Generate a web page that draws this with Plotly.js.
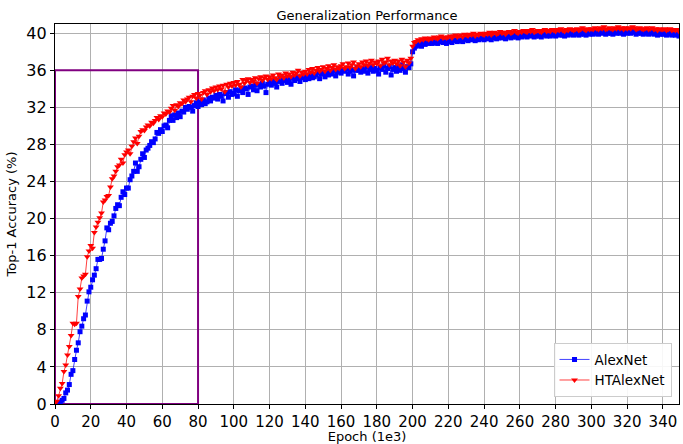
<!DOCTYPE html>
<html>
<head>
<meta charset="utf-8">
<script src="https://cdn.plot.ly/plotly-3.0.1.min.js"></script>
<style>html,body{margin:0;padding:0;background:#fff;}#chart{width:683px;height:444px;}</style>
</head>
<body>
<div id="chart"></div>
<script>
const alexNet = [
0.0,0.0,0.1,0.2,0.4,0.6,1.2,1.5,2.1,3.2,
3.6,4.8,5.8,6.6,7.8,8.4,9.2,9.6,11.1,12.1,
12.6,13.4,13.9,14.6,15.6,15.6,15.7,16.7,17.6,19.0,
18.8,19.5,19.7,20.3,21.1,21.5,21.4,22.3,22.9,22.6,
23.3,23.3,24.2,24.6,25.1,26.0,25.1,25.6,26.4,27.0,
26.6,27.4,27.6,27.9,28.3,28.2,28.6,29.3,29.2,29.6,
29.4,30.0,30.1,29.8,30.6,31.1,30.6,31.2,30.9,31.4,
31.0,31.6,31.5,32.0,31.8,32.1,32.0,31.6,32.2,32.5,
32.1,32.6,32.3,32.8,32.4,32.6,33.0,32.7,33.1,33.0,
33.3,32.9,33.4,33.2,32.7,33.5,33.6,33.1,33.7,33.4,
33.5,33.9,33.2,33.8,34.0,33.6,34.1,34.0,33.4,34.2,
34.3,33.9,34.4,33.8,34.5,34.2,34.6,34.3,33.6,34.5,
34.7,34.4,34.9,34.6,34.2,34.8,35.0,34.6,34.9,35.1,
34.7,35.0,34.5,35.2,34.9,35.1,35.3,34.8,35.2,35.4,
35.0,35.4,35.1,35.6,35.2,35.3,35.5,35.8,35.1,35.6,
35.7,35.3,35.8,35.5,35.9,35.6,36.0,35.4,35.8,36.1,
35.7,36.0,35.9,36.2,35.6,35.9,36.1,35.4,36.0,36.3,
36.0,35.8,36.2,35.9,36.4,35.7,36.1,36.3,35.9,36.2,
36.0,35.6,36.3,36.1,36.5,35.8,36.2,36.4,35.5,36.1,
36.3,35.9,36.4,36.0,36.6,36.2,35.8,36.4,36.3,36.7,
38.0,38.4,38.6,38.7,38.8,38.6,38.9,38.8,39.0,38.9,
39.0,38.9,39.1,39.0,38.9,39.1,39.2,39.0,39.1,38.9,
39.1,39.2,39.0,39.2,39.3,39.1,39.2,39.3,39.1,39.4,
39.3,39.2,39.4,39.3,39.5,39.2,39.4,39.3,39.5,39.4,
39.3,39.5,39.4,39.6,39.3,39.5,39.6,39.4,39.5,39.7,
39.5,39.6,39.4,39.6,39.7,39.5,39.6,39.8,39.6,39.5,
39.7,39.6,39.8,39.7,39.6,39.8,39.7,39.9,39.6,39.7,
39.8,39.7,39.6,39.8,39.9,39.7,39.8,39.7,39.9,39.8,
39.7,39.9,39.8,40.0,39.8,39.7,39.9,39.8,40.0,39.9,
39.8,39.9,40.0,39.8,39.9,40.1,39.9,39.8,40.0,39.9,
40.0,39.9,40.1,40.0,39.9,40.1,40.0,40.2,39.9,40.0,
40.1,40.0,39.9,40.1,40.0,40.2,40.0,40.1,39.9,40.1,
40.0,40.1,40.0,40.2,40.1,39.9,40.0,40.1,40.0,39.9,
40.0,40.1,39.9,40.0,40.1,39.9,40.0,39.8,40.0,39.9,
39.9,40.0,39.8,39.9,40.0,39.8,39.9,39.8,39.9,39.7
];
const htAlexNet = [
0.1,0.3,0.9,1.7,2.2,3.5,4.2,5.3,6.2,7.4,
8.7,8.6,8.7,11.6,12.4,13.6,13.8,14.0,15.9,16.5,
17.1,16.8,18.5,19.1,19.6,20.1,20.6,21.8,22.0,22.4,
22.5,23.4,24.3,24.6,25.1,25.6,25.8,26.4,26.0,26.9,
27.2,27.4,27.0,27.8,28.3,28.7,28.1,28.9,29.4,29.6,
29.5,29.9,30.1,30.0,30.4,30.3,30.6,30.9,30.7,31.1,
31.0,31.4,31.3,31.6,31.5,31.9,32.2,31.7,32.3,32.1,
32.5,32.4,32.8,32.6,32.9,33.1,32.6,33.2,33.4,33.0,
33.5,33.3,32.9,33.6,33.8,33.4,33.9,33.7,34.1,33.8,
34.2,33.9,34.3,34.0,34.4,33.7,34.5,34.2,34.6,34.3,
34.7,34.4,34.8,34.5,34.2,35.0,34.6,34.9,35.1,34.7,
35.0,34.8,35.2,34.6,35.1,35.3,34.9,35.2,35.4,35.0,
35.3,35.1,35.5,35.2,35.0,35.6,35.3,35.5,35.2,35.7,
35.4,35.6,35.3,35.8,35.5,35.7,36.0,35.4,35.8,35.6,
35.9,35.6,36.1,35.8,36.2,35.7,36.0,36.3,35.9,36.1,
36.4,35.9,36.2,36.5,36.0,36.3,36.6,36.1,36.4,36.2,
36.5,36.7,36.2,36.4,36.8,36.3,36.6,36.9,36.2,36.5,
36.7,36.4,36.9,36.6,37.0,36.5,36.8,37.1,36.6,36.9,
36.7,37.0,36.5,37.2,36.8,36.9,37.3,36.6,37.0,36.8,
37.1,36.7,37.0,36.5,37.2,36.9,36.4,37.1,36.8,37.3,
38.6,39.0,39.1,39.3,39.2,39.4,39.3,39.5,39.4,39.3,
39.5,39.4,39.6,39.5,39.4,39.6,39.7,39.5,39.6,39.5,
39.6,39.7,39.5,39.7,39.8,39.6,39.7,39.8,39.6,39.9,
39.8,39.7,39.9,39.8,40.0,39.7,39.9,39.8,40.0,39.9,
39.8,40.0,39.9,40.1,39.8,40.0,40.1,39.9,40.0,40.2,
40.0,40.1,39.9,40.1,40.2,40.0,40.1,40.3,40.1,40.0,
40.2,40.1,40.3,40.2,40.1,40.3,40.2,40.4,40.1,40.2,
40.3,40.2,40.1,40.3,40.4,40.2,40.3,40.2,40.4,40.3,
40.2,40.4,40.3,40.5,40.3,40.2,40.4,40.3,40.5,40.4,
40.3,40.4,40.5,40.3,40.4,40.6,40.4,40.3,40.5,40.4,
40.5,40.4,40.6,40.5,40.4,40.6,40.5,40.7,40.4,40.5,
40.6,40.5,40.4,40.6,40.5,40.7,40.5,40.6,40.4,40.6,
40.5,40.6,40.5,40.7,40.6,40.4,40.5,40.6,40.5,40.4,
40.5,40.6,40.4,40.5,40.6,40.4,40.5,40.3,40.5,40.4,
40.4,40.5,40.3,40.4,40.5,40.3,40.4,40.3,40.4,40.2
];
const epochs = alexNet.map((_, i) => i);
const boxX = [0, 80, 80, 0, 0];
const boxY = [36, 36, 0, 0, 36];
const xTicks = [0,20,40,60,80,100,120,140,160,180,200,220,240,260,280,300,320,340];
const yTicks = [0,4,8,12,16,20,24,28,32,36,40];

const font = "DejaVu Sans, sans-serif";
const traces = [
  {x: boxX, y: boxY, mode: 'lines', line: {color: 'purple', width: 2}, showlegend: false, hoverinfo: 'skip', cliponaxis: false},
  {x: epochs, y: alexNet, name: 'AlexNet', mode: 'lines+markers',
   line: {color: 'rgba(0,0,255,0.75)', width: 1},
   marker: {symbol: 'square', size: 5, color: 'blue'}},
  {x: epochs, y: htAlexNet, name: 'HTAlexNet', mode: 'lines+markers',
   line: {color: 'rgba(255,0,0,0.75)', width: 1},
   marker: {symbol: 'triangle-down', size: 6, color: 'red'}}
];
const layout = {
  width: 683, height: 444,
  margin: {l: 55, r: 4, t: 24, b: 40},
  paper_bgcolor: '#fff', plot_bgcolor: '#fff',
  font: {family: font, color: '#000'},
  title: {text: 'Generalization Performance', font: {size: 13, family: font}, x: 0.5, xref: 'paper', y: 0.965, yref: 'container', yanchor: 'middle'},
  xaxis: {range: [0, 349], tickvals: xTicks, ticktext: xTicks.map(String),
    tickfont: {size: 15}, ticks: 'outside', ticklen: 4, tickcolor: '#000',
    showgrid: true, gridcolor: '#b0b0b0', gridwidth: 1, zeroline: false,
    showline: true, linecolor: '#000', linewidth: 1.2, mirror: true,
    title: {text: 'Epoch (1e3)', font: {size: 13}, standoff: 3}},
  yaxis: {range: [0, 41], tickvals: yTicks, ticktext: yTicks.map(String),
    tickfont: {size: 16}, ticks: 'outside', ticklen: 4, tickcolor: '#000',
    showgrid: true, gridcolor: '#b0b0b0', gridwidth: 1, zeroline: false,
    showline: true, linecolor: '#000', linewidth: 1.2, mirror: true,
    title: {text: 'Top-1 Accuracy (%)', font: {size: 13}, standoff: 6}},
  legend: {x: 0.988, y: 0.018, xanchor: 'right', yanchor: 'bottom',
    bgcolor: 'rgba(255,255,255,0.9)', bordercolor: '#cccccc', borderwidth: 1,
    font: {size: 13.5}},
  showlegend: true
};
Plotly.newPlot('chart', traces, layout, {staticPlot: true, displayModeBar: false});
</script>
</body>
</html>
